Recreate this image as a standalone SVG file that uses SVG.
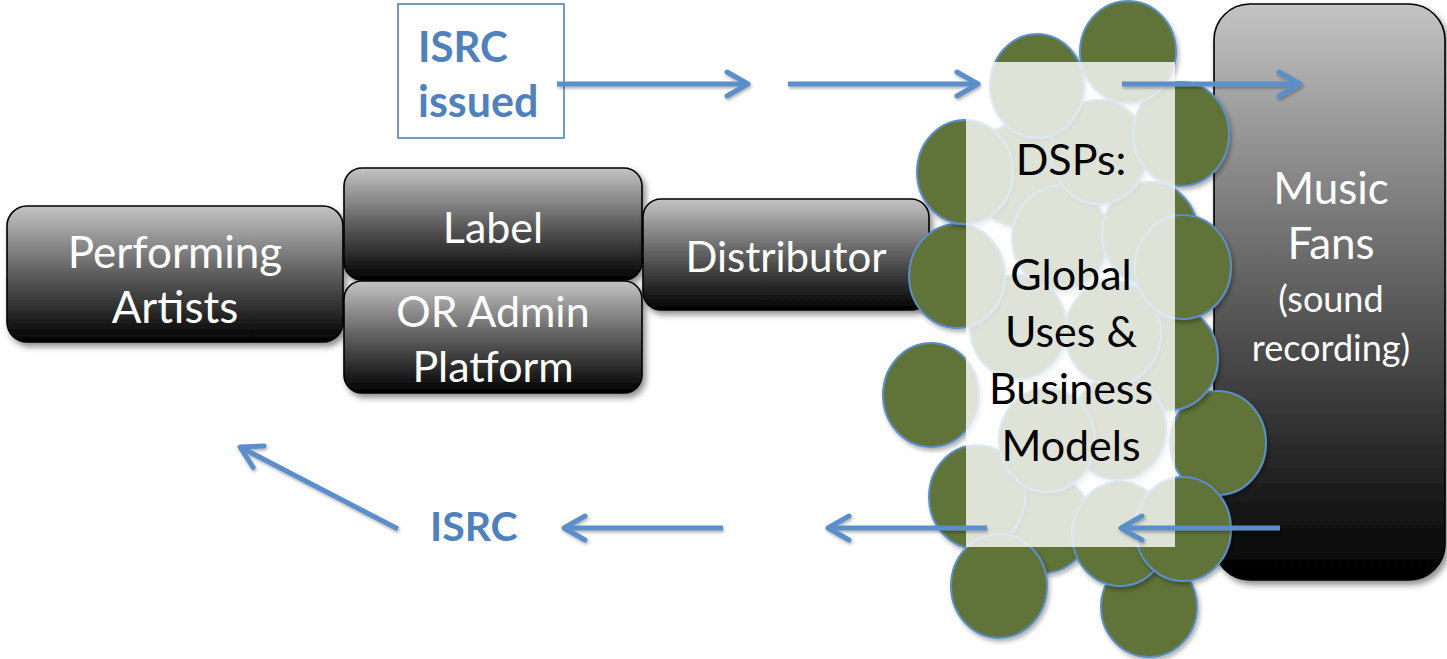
<svg xmlns="http://www.w3.org/2000/svg" width="1447" height="659" viewBox="0 0 1447 659">
<defs>
<linearGradient id="gbox" x1="0" y1="0" x2="0" y2="1">
<stop offset="0" stop-color="#c4c4c4"/>
<stop offset="0.5" stop-color="#5e5e5e"/>
<stop offset="1" stop-color="#000000"/>
</linearGradient>
<filter id="shadow" x="-10%" y="-10%" width="130%" height="140%">
<feDropShadow dx="3" dy="4" stdDeviation="3" flood-color="#000" flood-opacity="0.45"/>
</filter>
<filter id="cshadow" x="-20%" y="-20%" width="150%" height="150%">
<feDropShadow dx="2" dy="3" stdDeviation="2" flood-color="#000" flood-opacity="0.3"/>
</filter>
<filter id="ashadow" filterUnits="userSpaceOnUse" x="0" y="0" width="1447" height="659">
<feDropShadow dx="1" dy="2" stdDeviation="1.5" flood-color="#000" flood-opacity="0.3"/>
</filter>
<marker id="ah" markerUnits="userSpaceOnUse" markerWidth="32" markerHeight="34" viewBox="-28 -17 32 34" refX="0" refY="0" orient="auto" overflow="visible">
<path d="M-21,-12 L0,0 L-21,12" fill="none" stroke="#5b8fca" stroke-width="5" stroke-linecap="round" stroke-linejoin="round"/>
</marker>
</defs>
<style>
.box{fill:url(#gbox);stroke:#000;stroke-width:1.6;filter:url(#shadow)}
.wt{font-family:Lato,"Open Sans","Liberation Sans",sans-serif;fill:#fff;text-anchor:middle}
.bt{font-family:Lato,"Open Sans","Liberation Sans",sans-serif;fill:#000;text-anchor:middle;font-size:43px}
.blue{font-family:Lato,"Open Sans","Liberation Sans",sans-serif;fill:#4f81bd;font-weight:bold}
.c{fill:#617337;stroke:#5b8fca;stroke-width:2;filter:url(#cshadow)}
.ar{fill:none;stroke:#5b8fca;stroke-width:5;marker-end:url(#ah)}
</style>
<rect width="1447" height="659" fill="#fff"/>

<g id="isrc-issued">
<rect x="398" y="4" width="166" height="134" fill="#fff" stroke="#4f81bd" stroke-width="1.6"/>
<text class="blue" x="418" y="62" font-size="42">ISRC</text>
<text class="blue" x="418" y="117" font-size="43">issued</text>
</g>

<g id="performing-artists">
<rect class="box" x="7" y="206" width="336" height="136" rx="20"/>
<text class="wt" x="175" y="268" font-size="44">Performing</text>
<text class="wt" x="175" y="323" font-size="44">Artists</text>
</g>

<g id="label">
<rect class="box" x="344" y="168" width="298" height="112" rx="18"/>
<text class="wt" x="493" y="243" font-size="43">Label</text>
</g>

<g id="admin-platform">
<rect class="box" x="344" y="281" width="298" height="112" rx="18"/>
<text class="wt" x="493" y="327" font-size="43">OR Admin</text>
<text class="wt" x="493" y="382" font-size="43">Platform</text>
</g>

<g id="distributor">
<rect class="box" x="643" y="199" width="286" height="111" rx="18"/>
<text class="wt" x="786" y="272" font-size="42">Distributor</text>
</g>

<g id="music-fans">
<rect class="box" x="1214" y="4" width="231" height="576" rx="36"/>
<text class="wt" x="1331" y="204" font-size="44">Music</text>
<text class="wt" x="1331" y="259" font-size="44">Fans</text>
<text class="wt" x="1331" y="312" font-size="36">(sound</text>
<text class="wt" x="1331" y="361" font-size="36">recording)</text>
</g>

<g id="dsps">
<ellipse class="c" cx="1149" cy="607" rx="48" ry="50"/>
<ellipse class="c" cx="1043" cy="523" rx="48" ry="50"/>
<ellipse class="c" cx="1120" cy="534" rx="48" ry="52"/>
<ellipse class="c" cx="1218" cy="443" rx="48" ry="52"/>
<ellipse class="c" cx="1183" cy="529" rx="48" ry="52"/>
<ellipse class="c" cx="977" cy="497" rx="48" ry="52"/>
<ellipse class="c" cx="999" cy="586" rx="48" ry="52"/>
<ellipse class="c" cx="931" cy="395" rx="48" ry="52"/>
<ellipse class="c" cx="1170" cy="358" rx="48" ry="52"/>
<ellipse class="c" cx="1118" cy="428" rx="48" ry="52"/>
<ellipse class="c" cx="1047" cy="440" rx="48" ry="52"/>
<ellipse class="c" cx="1018" cy="327" rx="48" ry="52"/>
<ellipse class="c" cx="1113" cy="333" rx="48" ry="52"/>
<ellipse class="c" cx="1020" cy="175" rx="48" ry="52"/>
<ellipse class="c" cx="957" cy="276" rx="48" ry="52"/>
<ellipse class="c" cx="1060" cy="238" rx="48" ry="52"/>
<ellipse class="c" cx="1150" cy="234" rx="48" ry="52"/>
<ellipse class="c" cx="1183" cy="267" rx="48" ry="52"/>
<ellipse class="c" cx="965" cy="172" rx="48" ry="52"/>
<ellipse class="c" cx="1099" cy="152" rx="48" ry="52"/>
<ellipse class="c" cx="1181" cy="134" rx="48" ry="52"/>
<ellipse class="c" cx="1037" cy="86" rx="47" ry="52"/>
<ellipse class="c" cx="1128" cy="52" rx="48" ry="51"/>
<rect x="966" y="62" width="209" height="485" fill="#fff" fill-opacity="0.8"/>
<text class="bt" x="1071" y="175">DSPs:</text>
<text class="bt" x="1071" y="290">Global</text>
<text class="bt" x="1071" y="347">Uses &amp;</text>
<text class="bt" x="1071" y="404">Business</text>
<text class="bt" x="1071" y="461">Models</text>
</g>

<g id="isrc-return">
<text class="blue" x="430" y="541" font-size="41">ISRC</text>
</g>

<g id="connectors" filter="url(#ashadow)">
<line class="ar" x1="557" y1="84" x2="748" y2="84"/>
<line class="ar" x1="788" y1="84" x2="978" y2="84"/>
<line class="ar" x1="1122" y1="84" x2="1300" y2="84"/>
<line class="ar" x1="1280" y1="528" x2="1121" y2="528"/>
<line class="ar" x1="987" y1="528" x2="828" y2="528"/>
<line class="ar" x1="723" y1="528" x2="564" y2="528"/>
<line class="ar" x1="398" y1="529" x2="240" y2="447"/>
</g>
</svg>
